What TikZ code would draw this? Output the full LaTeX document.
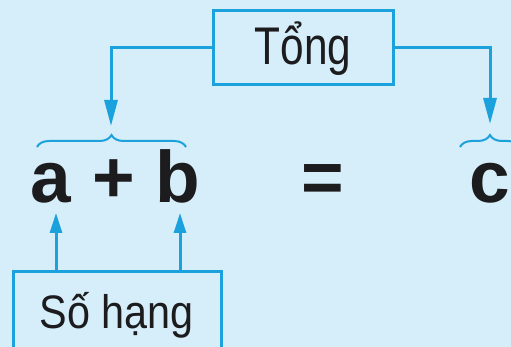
\documentclass[tikz,border=0pt]{standalone}
\usepackage{fontspec}
\setmainfont{Liberation Sans}
\usetikzlibrary{arrows.meta,decorations.pathreplacing}

\definecolor{sheet}{RGB}{214,238,250}
\definecolor{wire}{RGB}{27,161,219}
\definecolor{ink}{RGB}{28,28,30}

\tikzset{every picture/.style={line width=3pt}}
\tikzset{
  namebox/.style={draw=wire, line width=3pt, text=ink, inner xsep=0pt},
  term/.style={anchor=base, text=ink, inner sep=0pt, font=\fontsize{73}{80}\selectfont\bfseries},
  downarrow/.style={draw=wire, -{Triangle[length=26pt,width=13pt]}},
  uparrow/.style={draw=wire, -{Triangle[length=20pt,width=12pt]}},
  bracket/.style={draw=wire, line width=2pt, decorate, decoration={brace, amplitude=12pt}}
}

\begin{document}
\begin{tikzpicture}[x=1pt,y=1pt,yscale=-1,xscale=1]
\useasboundingbox (0,0) rectangle (511,347);
\fill [sheet] (0,0) rectangle (511,347);

% Text Node
\node (tong) [namebox, minimum width=180pt, text height=44pt, text depth=10pt, inner ysep=10pt, font=\fontsize{53}{60}\selectfont, anchor=north] at (303,9) {\scalebox{0.8}[1]{Tổng}};
% Text Node
\node (sohang) [namebox, minimum width=208pt, text height=40pt, text depth=12pt, inner ysep=17pt, font=\fontsize{47}{54}\selectfont, anchor=north] at (117,270) {\scalebox{0.88}[1]{Số hạng}};

% Text Node
\node (a) [term] at (51,203) {a};
\node (plus) [term] at (114,203) {+};
\node (b) [term] at (178,203) {b};
\node (eq) [term] at (323,203) {=};
\node (c) [term] at (490,203) {c};

% Braces
\draw [bracket] (37,147) -- (186,147);
\draw [bracket] (460,147) -- (520,147);

% Connectors
\coordinate (sumL) at (111,126);
\coordinate (sumR) at (490,124);
\draw [downarrow] (tong.west) -| (sumL);
\draw [downarrow] (tong.east) -| (sumR);

\coordinate (termA) at (56,213);
\coordinate (termB) at (180,213);
\draw [uparrow] (sohang.north -| termA) -- (termA);
\draw [uparrow] (sohang.north -| termB) -- (termB);

\end{tikzpicture}
\end{document}
